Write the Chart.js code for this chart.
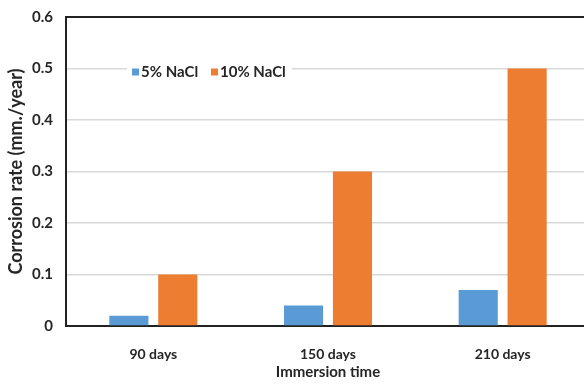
<!DOCTYPE html>
<html>
<head>
<meta charset="utf-8">
<script src="https://cdn.jsdelivr.net/npm/chart.js@4.4.0/dist/chart.umd.min.js"></script>
<style>
  html, body { margin: 0; padding: 0; background: #fff; overflow: hidden; }
  #wrap { position: relative; width: 600px; height: 385px; }
</style>
</head>
<body>
<div id="wrap"><canvas id="c" width="600" height="385"></canvas></div>
<script>
const categories = ["90 days", "150 days", "210 days"];
const seriesNames = ["5% NaCl", "10% NaCl"];
const nacl5 = [0.02, 0.04, 0.07];
const nacl10 = [0.10, 0.30, 0.50];
const yTicks = [0, 0.1, 0.2, 0.3, 0.4, 0.5, 0.6];
const xTitle = "Immersion time";
const yTitle = "Corrosion rate (mm./year)";

const FONT = "Lato";
const BLUE = "#5B9BD5";
const ORANGE = "#ED7D31";

const legendPlugin = {
  id: "insideLegend",
  afterDatasetsDraw(chart) {
    const ctx = chart.ctx;
    const ya = chart.scales.y;
    const yPos = ya.getPixelForValue(0.5) + 4;
    ctx.save();
    ctx.fillStyle = "#fff";
    ctx.fillRect(127, yPos - 9, 165, 18);
    ctx.font = "bold 15px " + FONT;
    ctx.textBaseline = "middle";
    const items = [
      { x: 132, color: chart.data.datasets[0].backgroundColor, text: chart.data.datasets[0].label },
      { x: 211, color: chart.data.datasets[1].backgroundColor, text: chart.data.datasets[1].label }
    ];
    items.forEach(it => {
      ctx.fillStyle = it.color;
      ctx.fillRect(it.x, yPos - 4, 7, 7);
      ctx.fillStyle = "#262626";
      ctx.fillText(it.text, it.x + 9, yPos);
    });
    ctx.restore();
  }
};

const borderPlugin = {
  id: "topBorder",
  afterDraw(chart) {
    const a = chart.chartArea;
    const ctx = chart.ctx;
    ctx.save();
    ctx.strokeStyle = "#222";
    ctx.lineWidth = 2;
    ctx.beginPath();
    ctx.moveTo(a.left - 1, a.top);
    ctx.lineTo(a.right, a.top);
    ctx.stroke();
    ctx.restore();
  }
};

new Chart(document.getElementById("c"), {
  type: "bar",
  data: {
    labels: categories,
    datasets: [
      { label: seriesNames[0], data: nacl5, backgroundColor: BLUE, categoryPercentage: 0.56, barPercentage: 0.8 },
      { label: seriesNames[1], data: nacl10, backgroundColor: ORANGE, categoryPercentage: 0.56, barPercentage: 0.8 }
    ]
  },
  options: {
    responsive: false,
    animation: false,
    layout: { padding: { left: 0, top: 17, right: 10, bottom: 0 } },
    plugins: { legend: { display: false }, tooltip: { enabled: false } },
    scales: {
      x: {
        grid: { display: false },
        border: { display: true, color: "#222", width: 2 },
        ticks: { color: "#262626", font: { family: FONT, size: 14, weight: "bold" }, padding: 12 },
        title: { display: true, text: xTitle, color: "#262626", font: { family: FONT, size: 15, weight: "bold" }, padding: { top: 0, bottom: 4 } },
        afterFit(s) { s.height = 59; }
      },
      y: {
        min: 0, max: 0.6,
        afterBuildTicks(s) { s.ticks = yTicks.map(v => ({ value: v })); },
        grid: { color: "#d9d9d9", lineWidth: 1.5, drawTicks: false },
        border: { display: true, color: "#222", width: 2 },
        ticks: {
          color: "#262626", font: { family: FONT, size: 15, weight: "bold" }, padding: 13,
          callback: v => (v === 0 ? "0" : v.toFixed(1))
        },
        title: { display: true, text: yTitle, color: "#262626", font: { family: FONT, size: 18, weight: "bold" }, padding: { top: 5, bottom: 0 } },
        afterFit(s) { s.width = 66; s.paddingTop = 9; s.paddingBottom = 9; }
      }
    }
  },
  plugins: [legendPlugin, borderPlugin]
});
</script>
</body>
</html>
